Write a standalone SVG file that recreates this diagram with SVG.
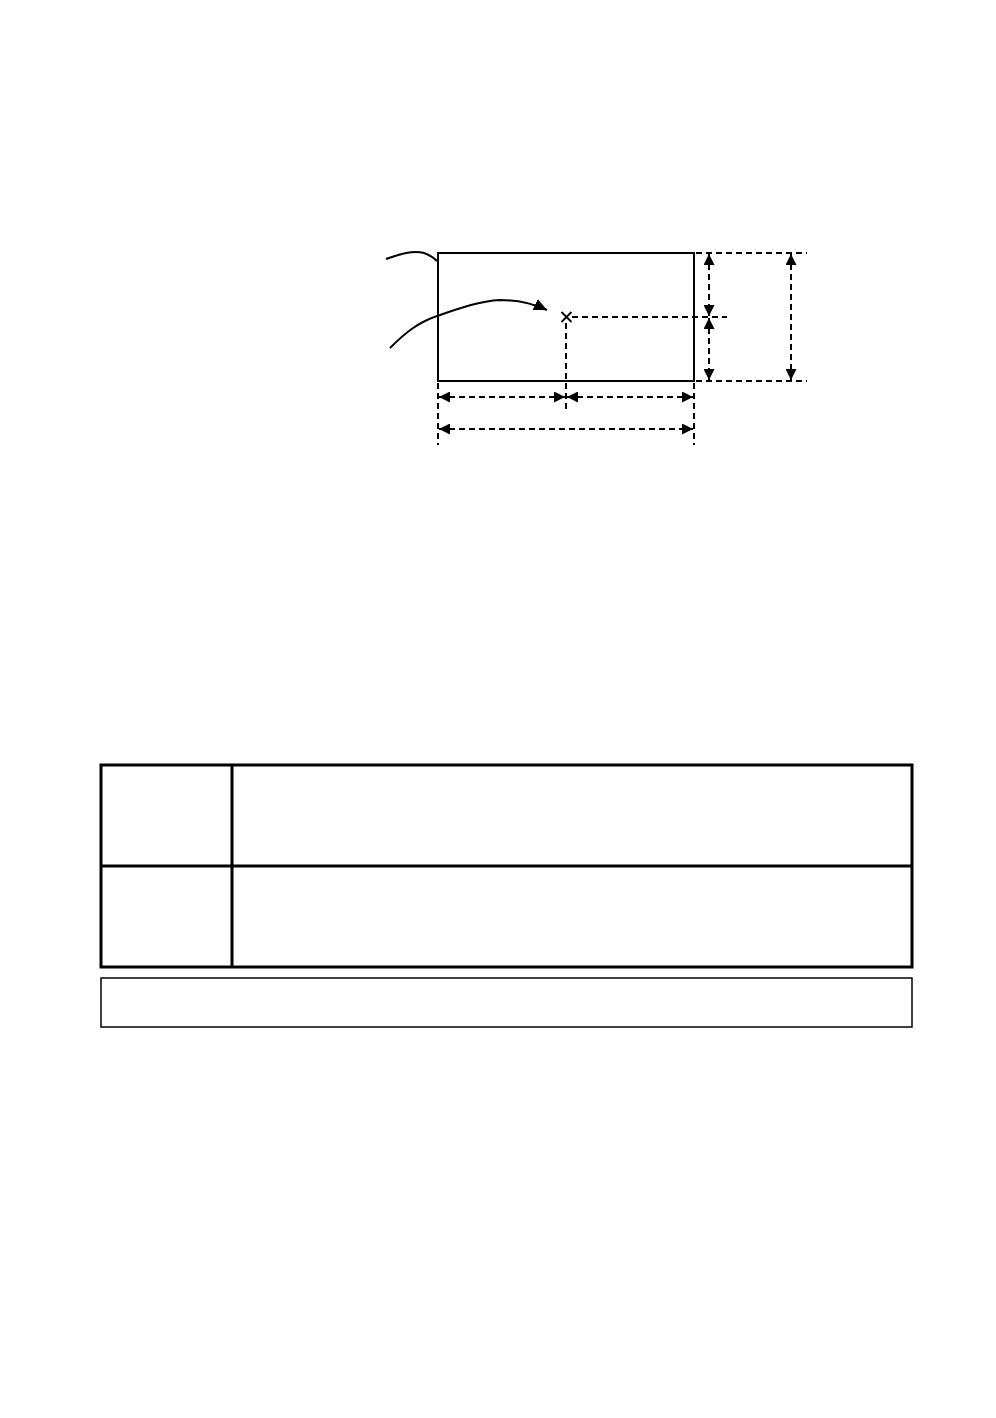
<svg xmlns="http://www.w3.org/2000/svg" width="996" height="1418" viewBox="0 0 996 1418">
<style>
.solid{fill:none;stroke:#000;stroke-width:2}
.dash{fill:none;stroke:#000;stroke-width:2;stroke-dasharray:6 4}
.thick{fill:none;stroke:#000;stroke-width:3}
.thin{fill:none;stroke:#000;stroke-width:1.5}
</style>
<defs>
<marker id="ah" viewBox="0 0 10 10" refX="10" refY="5" markerWidth="11" markerHeight="11" markerUnits="userSpaceOnUse" orient="auto-start-reverse">
<path d="M0,0 L10,5 L0,10 Z" fill="#000"/>
</marker>
<marker id="ah2" viewBox="0 0 13 12" refX="13" refY="6" markerWidth="13" markerHeight="12" markerUnits="userSpaceOnUse" orient="auto">
<path d="M0,0 L13,6 L0,12 Z" fill="#000"/>
</marker>
</defs>
<rect width="996" height="1418" fill="#fff"/>
<g id="part">
<rect x="438" y="253" width="256" height="128" class="solid"/>
</g>
<g id="center-mark">
<path d="M561.5,312 L571.5,322 M571.5,312 L561.5,322" stroke="#000" stroke-width="1.8" fill="none"/>
</g>
<g id="table">
<rect x="101" y="765" width="811" height="202" class="thick"/>
<line x1="101" y1="866" x2="912" y2="866" class="thick"/>
<line x1="232" y1="765" x2="232" y2="967" class="thick"/>
</g>
<g id="note-box">
<rect x="101" y="978" width="811" height="49" class="thin"/>
</g>
<g id="connectors">
<path d="M386,259 C400,254 413,250 424,253 C430,255 434,258 437,261" class="solid"/>
<path d="M390,348 C405,333 418,322 440,315 C460,308 480,301 500,300 C518,300 532,303 547,310" class="solid" marker-end="url(#ah2)"/>
<line x1="572" y1="317" x2="727" y2="317" class="dash"/>
<line x1="566" y1="323" x2="566" y2="413" class="dash"/>
<line x1="696" y1="253" x2="807" y2="253" class="dash"/>
<line x1="696" y1="381" x2="807" y2="381" class="dash"/>
<line x1="438" y1="383" x2="438" y2="445" class="dash"/>
<line x1="694" y1="383" x2="694" y2="445" class="dash"/>
<line x1="709" y1="254" x2="709" y2="316" class="dash" marker-start="url(#ah)" marker-end="url(#ah)"/>
<line x1="709" y1="318" x2="709" y2="380" class="dash" marker-start="url(#ah)" marker-end="url(#ah)"/>
<line x1="791" y1="254" x2="791" y2="380" class="dash" marker-start="url(#ah)" marker-end="url(#ah)"/>
<line x1="439" y1="397" x2="565" y2="397" class="dash" marker-start="url(#ah)" marker-end="url(#ah)"/>
<line x1="567" y1="397" x2="693" y2="397" class="dash" marker-start="url(#ah)" marker-end="url(#ah)"/>
<line x1="439" y1="429" x2="693" y2="429" class="dash" marker-start="url(#ah)" marker-end="url(#ah)"/>
</g>
</svg>
